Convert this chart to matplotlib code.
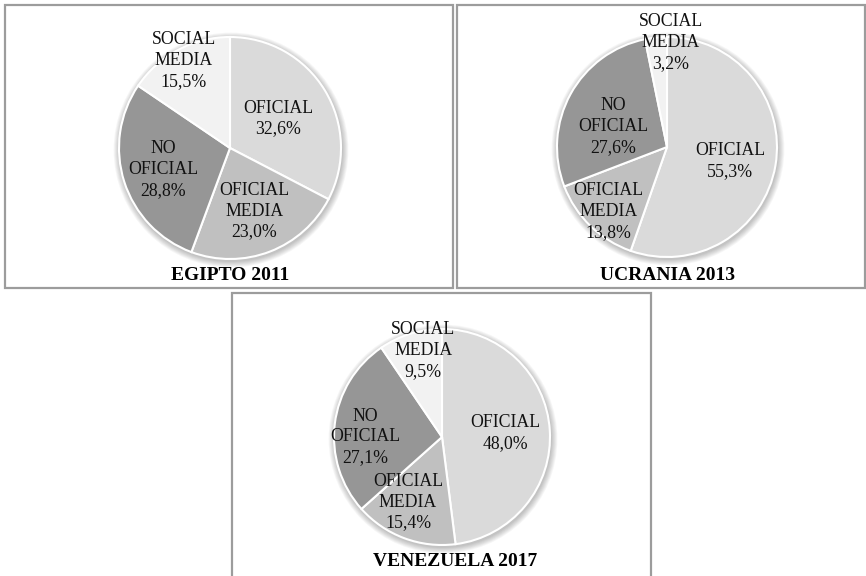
import numpy as np
import matplotlib.pyplot as plt
from matplotlib.patches import Rectangle, Circle

W, H = 866, 576

categories = ["OFICIAL", "OFICIAL\nMEDIA", "NO\nOFICIAL", "SOCIAL\nMEDIA"]
colors = ["#dadada", "#c0c0c0", "#969696", "#f2f2f2"]

egipto = [32.6, 23.0, 28.8, 15.5]
ucrania = [55.3, 13.8, 27.6, 3.2]
venezuela = [48.0, 15.4, 27.1, 9.5]
titles = ["EGIPTO 2011", "UCRANIA 2013", "VENEZUELA 2017"]

# pie layout in pixels (top-left origin): centre, radius, title pos, frame box
charts = [
    dict(values=egipto, c=(230, 148), r=111, title=(230, 275),
         box=(5, 5, 453, 288),
         ldist=[0.51, 0.61, 0.63, 0.89], lshift=[0, 0, 0, 0]),
    dict(values=ucrania, c=(667, 147), r=110, title=(667, 275),
         box=(457, 5, 865, 288),
         ldist=[0.59, 0.79, 0.52, 0.95], lshift=[-3, 2, 8, -8]),
    dict(values=venezuela, c=(442, 437), r=108, title=(455, 562),
         box=(232, 293, 651, 580),
         ldist=[0.59, 0.68, 0.71, 0.82], lshift=[0, -7, 7, -5]),
]

plt.rcParams['font.family'] = ['Liberation Serif', 'DejaVu Serif']

fig = plt.figure(figsize=(W / 100, H / 100), dpi=100)
ax = fig.add_axes([0, 0, 1, 1])

for ch, title in zip(charts, titles):
    cx, cy = ch["c"][0], H - ch["c"][1]
    r = ch["r"]
    x0, y0, x1, y1 = ch["box"]
    ax.add_patch(Rectangle((x0, H - y1), x1 - x0, y1 - y0, fill=False,
                           edgecolor="#9c9c9c", lw=1.6, clip_on=False))

    # soft drop shadow under the pie
    for k in range(7):
        ax.add_patch(Circle((cx + 1, cy - 2), r + 1 + k * 0.9,
                            color="black", alpha=0.035, lw=0))

    vals = ch["values"]
    ax.pie(vals, colors=colors, startangle=90, counterclock=False,
           center=(cx, cy), radius=r,
           wedgeprops=dict(edgecolor="white", linewidth=1.5))

    total = sum(vals)
    start = 90.0
    for lab, v, d, s in zip(categories, vals, ch["ldist"], ch["lshift"]):
        sweep = 360.0 * v / total
        mid = np.radians(start - sweep / 2 + s)
        start -= sweep
        tx = cx + d * r * np.cos(mid)
        ty = cy + d * r * np.sin(mid)
        txt = f"{lab}\n{v:.1f}%".replace(".", ",")
        ax.text(tx, ty, txt, ha="center", va="center", fontsize=12.8,
                color="#111111", linespacing=1.3)

    tx, ty = ch["title"]
    ax.text(tx, H - ty, title, ha="center", va="center", fontsize=14,
            fontweight="bold", color="black")

ax.set_xlim(0, W)
ax.set_ylim(0, H)
ax.set_aspect("auto")
ax.axis("off")

fig.savefig("out.png", dpi=100, facecolor="white")
